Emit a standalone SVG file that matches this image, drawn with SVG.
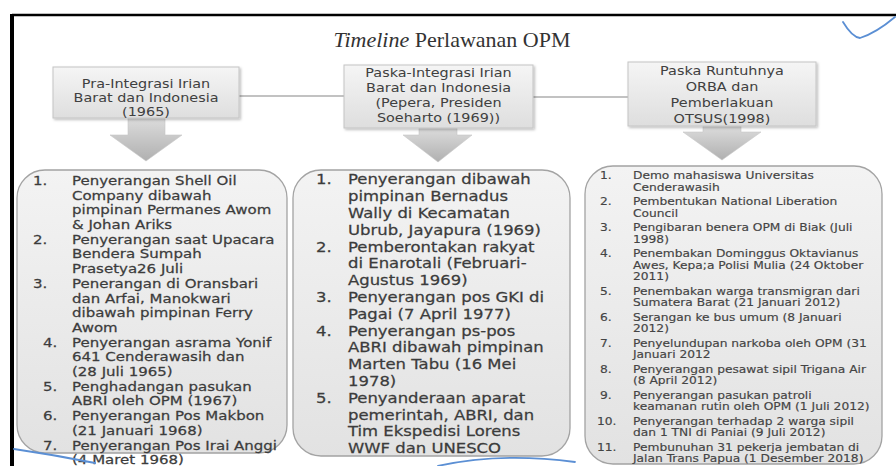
<svg xmlns="http://www.w3.org/2000/svg" width="896" height="466" viewBox="0 0 896 466">
<defs>
<linearGradient id="hdrGrad" x1="0" y1="0" x2="0" y2="1">
<stop offset="0" stop-color="#f5f5f5"/><stop offset="1" stop-color="#dedede"/>
</linearGradient>
<linearGradient id="listGrad" x1="0" y1="0" x2="0" y2="1">
<stop offset="0" stop-color="#f3f3f3"/><stop offset="1" stop-color="#e2e2e2"/>
</linearGradient>
<linearGradient id="arrGrad" x1="0" y1="0" x2="0" y2="1">
<stop offset="0" stop-color="#dcdcdc"/><stop offset="1" stop-color="#b0b0b0"/>
</linearGradient>
<filter id="sh" x="-10%" y="-10%" width="130%" height="130%">
<feDropShadow dx="1.5" dy="1.5" stdDeviation="1.2" flood-color="#000" flood-opacity="0.25"/>
</filter>
<style>
.hdr{fill:url(#hdrGrad);stroke:#c4c4c4;stroke-width:1;filter:url(#sh)}
.lst{fill:url(#listGrad);stroke:#a3a3a3;stroke-width:1.3}
.arr{fill:url(#arrGrad);stroke:#c8c8c8;stroke-width:0.6}
.con{stroke:#c2c2c2;stroke-width:2;fill:none}
.ht{font-family:"DejaVu Sans",sans-serif;font-size:12px;fill:#404040;text-anchor:middle}
.t1{font-family:"DejaVu Sans",sans-serif;font-size:12.4px;fill:#3c3c3c;stroke:#3c3c3c;stroke-width:0.25}
.t2{font-family:"DejaVu Sans",sans-serif;font-size:14.2px;fill:#3c3c3c;stroke:#3c3c3c;stroke-width:0.25}
.t3{font-family:"DejaVu Sans",sans-serif;font-size:9.8px;fill:#444;stroke:#444;stroke-width:0.15}
.blue{stroke:#5b8fd4;stroke-width:1.8;fill:none;stroke-linecap:round}
.title{font-family:"Liberation Serif",serif;font-size:22px;fill:#333;text-anchor:middle}
</style>
</defs>
<rect x="0" y="0" width="896" height="466" fill="#ffffff"/>
<g id="frame">
<line x1="12" y1="15" x2="896" y2="15" stroke="#000" stroke-width="2.5"/>
<line x1="12" y1="14" x2="12" y2="466" stroke="#000" stroke-width="4"/>
</g>
<g id="title">
<text class="title" x="452" y="47"><tspan font-style="italic">Timeline</tspan> Perlawanan OPM</text>
</g>
<g id="connectors">
<line class="con" x1="239" y1="96" x2="344" y2="96"/>
<line class="con" x1="533" y1="97" x2="628" y2="97"/>
<path class="arr" d="M128,118 H165 V135 H182 L146,161 L110,135 H128 Z"/>
<path class="arr" d="M419,128 H457 V135 H472 L438,162 L403,135 H419 Z"/>
<path class="arr" d="M703,126 H741 V132 H761 L722,160 L683,132 H703 Z"/>
</g>
<g id="hdr1">
<rect class="hdr" x="53" y="67" width="186" height="51"/>
<text class="ht" transform="scale(1.2,1)"><tspan x="121.67" y="88">Pra-Integrasi Irian</tspan><tspan x="121.67" y="102">Barat dan Indonesia</tspan><tspan x="121.67" y="116">(1965)</tspan></text>
</g>
<g id="hdr2">
<rect class="hdr" x="344" y="65" width="189" height="63"/>
<text class="ht" transform="scale(1.2,1)"><tspan x="365.42" y="77">Paska-Integrasi Irian</tspan><tspan x="365.42" y="92">Barat dan Indonesia</tspan><tspan x="365.42" y="107">(Pepera, Presiden</tspan><tspan x="365.42" y="122">Soeharto (1969))</tspan></text>
</g>
<g id="hdr3">
<rect class="hdr" x="628" y="62" width="188" height="64"/>
<text class="ht" transform="scale(1.2,1)"><tspan x="601.67" y="75">Paska Runtuhnya</tspan><tspan x="601.67" y="91">ORBA dan</tspan><tspan x="601.67" y="107">Pemberlakuan</tspan><tspan x="601.67" y="123">OTSUS(1998)</tspan></text>
</g>
<g id="list1">
<rect class="lst" x="17" y="170" width="270" height="283" rx="28" ry="28"/>
<text class="t1" transform="scale(1.21,1)">
<tspan x="27.27" y="185">1.</tspan><tspan x="59.5" y="185">Penyerangan Shell Oil</tspan>
<tspan x="59.5" y="199.7">Company dibawah</tspan>
<tspan x="59.5" y="214.4">pimpinan Permanes Awom</tspan>
<tspan x="59.5" y="229.1">&amp; Johan Ariks</tspan>
<tspan x="27.27" y="243.8">2.</tspan><tspan x="59.5" y="243.8">Penyerangan saat Upacara</tspan>
<tspan x="59.5" y="258.5">Bendera Sumpah</tspan>
<tspan x="59.5" y="273.2">Prasetya26 Juli</tspan>
<tspan x="27.27" y="287.9">3.</tspan><tspan x="59.5" y="287.9">Penerangan di Oransbari</tspan>
<tspan x="59.5" y="302.6">dan Arfai, Manokwari</tspan>
<tspan x="59.5" y="317.3">dibawah pimpinan Ferry</tspan>
<tspan x="59.5" y="332">Awom</tspan>
<tspan x="35.54" y="346.7">4.</tspan><tspan x="59.5" y="346.7">Penyerangan asrama Yonif</tspan>
<tspan x="59.5" y="361.4">641 Cenderawasih dan</tspan>
<tspan x="59.5" y="376.1">(28 Juli 1965)</tspan>
<tspan x="35.54" y="390.8">5.</tspan><tspan x="59.5" y="390.8">Penghadangan pasukan</tspan>
<tspan x="59.5" y="405.5">ABRI oleh OPM (1967)</tspan>
<tspan x="35.54" y="420.2">6.</tspan><tspan x="59.5" y="420.2">Penyerangan Pos Makbon</tspan>
<tspan x="59.5" y="434.9">(21 Januari 1968)</tspan>
<tspan x="35.54" y="449.6">7.</tspan><tspan x="59.5" y="449.6">Penyerangan Pos Irai Anggi</tspan>
<tspan x="59.5" y="464.3">(4 Maret 1968)</tspan>
</text>
</g>
<g id="list2">
<rect class="lst" x="293" y="170" width="277" height="286" rx="28" ry="28"/>
<text class="t2" transform="scale(1.16,1)">
<tspan x="272.41" y="184.5">1.</tspan><tspan x="300" y="184.5">Penyerangan dibawah</tspan>
<tspan x="300" y="201.3">pimpinan Bernadus</tspan>
<tspan x="300" y="218.1">Wally di Kecamatan</tspan>
<tspan x="300" y="234.9">Ubrub, Jayapura (1969)</tspan>
<tspan x="272.41" y="251.7">2.</tspan><tspan x="300" y="251.7">Pemberontakan rakyat</tspan>
<tspan x="300" y="268.5">di Enarotali (Februari-</tspan>
<tspan x="300" y="285.3">Agustus 1969)</tspan>
<tspan x="272.41" y="302.1">3.</tspan><tspan x="300" y="302.1">Penyerangan pos GKI di</tspan>
<tspan x="300" y="318.9">Pagai (7 April 1977)</tspan>
<tspan x="272.41" y="335.7">4.</tspan><tspan x="300" y="335.7">Penyerangan ps-pos</tspan>
<tspan x="300" y="352.5">ABRI dibawah pimpinan</tspan>
<tspan x="300" y="369.3">Marten Tabu (16 Mei</tspan>
<tspan x="300" y="386.1">1978)</tspan>
<tspan x="272.41" y="402.9">5.</tspan><tspan x="300" y="402.9">Penyanderaan aparat</tspan>
<tspan x="300" y="419.7">pemerintah, ABRI, dan</tspan>
<tspan x="300" y="436.5">Tim Ekspedisi Lorens</tspan>
<tspan x="300" y="453.3">WWF dan UNESCO</tspan>
</text>
</g>
<g id="list3">
<rect class="lst" x="585" y="166" width="297" height="298" rx="28" ry="28"/>
<text class="t3" transform="scale(1.25,1)">
<tspan x="480" y="179">1.</tspan><tspan x="506.4" y="179">Demo mahasiswa Universitas</tspan>
<tspan x="506.4" y="190.6">Cenderawasih</tspan>
<tspan x="480" y="205">2.</tspan><tspan x="506.4" y="205">Pembentukan National Liberation</tspan>
<tspan x="506.4" y="216.6">Council</tspan>
<tspan x="480" y="231">3.</tspan><tspan x="506.4" y="231">Pengibaran benera OPM di Biak (Juli</tspan>
<tspan x="506.4" y="242.6">1998)</tspan>
<tspan x="480" y="257">4.</tspan><tspan x="506.4" y="257">Penembakan Dominggus Oktavianus</tspan>
<tspan x="506.4" y="268.6">Awes, Kepa;a Polisi Mulia (24 Oktober</tspan>
<tspan x="506.4" y="280.2">2011)</tspan>
<tspan x="480" y="294.6">5.</tspan><tspan x="506.4" y="294.6">Penembakan warga transmigran dari</tspan>
<tspan x="506.4" y="306.2">Sumatera Barat (21 Januari 2012)</tspan>
<tspan x="480" y="320.6">6.</tspan><tspan x="506.4" y="320.6">Serangan ke bus umum (8 Januari</tspan>
<tspan x="506.4" y="332.2">2012)</tspan>
<tspan x="480" y="346.6">7.</tspan><tspan x="506.4" y="346.6">Penyelundupan narkoba oleh OPM (31</tspan>
<tspan x="506.4" y="358.2">Januari 2012</tspan>
<tspan x="480" y="372.6">8.</tspan><tspan x="506.4" y="372.6">Penyerangan pesawat sipil Trigana Air</tspan>
<tspan x="506.4" y="384.2">(8 April 2012)</tspan>
<tspan x="480" y="398.6">9.</tspan><tspan x="506.4" y="398.6">Penyerangan pasukan patroli</tspan>
<tspan x="506.4" y="410.2">keamanan rutin oleh OPM (1 Juli 2012)</tspan>
<tspan x="477.6" y="424.6">10.</tspan><tspan x="506.4" y="424.6">Penyerangan terhadap 2 warga sipil</tspan>
<tspan x="506.4" y="436.2">dan 1 TNI di Paniai (9 Juli 2012)</tspan>
<tspan x="477.6" y="450.6">11.</tspan><tspan x="506.4" y="450.6">Pembunuhan 31 pekerja jembatan di</tspan>
<tspan x="506.4" y="462.2">Jalan Trans Papua (1 Desember 2018)</tspan>
</text>
</g>
<g id="strokes">
<path class="blue" d="M843,22 Q852,37 860,38 Q876,33 895,17"/>
<path class="blue" d="M14,449 Q55,455 95,463"/>
<path class="blue" d="M438,466 Q500,452 575,462"/>
</g>
</svg>
